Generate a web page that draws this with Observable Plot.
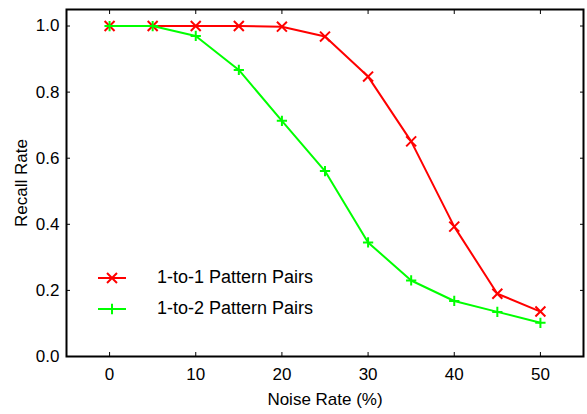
<!DOCTYPE html>
<html>
<head>
<meta charset="utf-8">
<script src="https://cdn.jsdelivr.net/npm/d3@7"></script>
<script src="https://cdn.jsdelivr.net/npm/@observablehq/plot@0.6"></script>
<style>
  body { margin: 0; background: #fff; }
  #chart { position: relative; width: 587px; height: 414px;
           font-family: "Liberation Sans", Arial, Helvetica, sans-serif; }
  #legend { position: absolute; left: 97px; top: 262px; font-size: 18px; color: #000; }
  #legend .row { display: flex; align-items: center; height: 31px; }
  #legend svg { margin-right: 30px; }
</style>
</head>
<body>
<div id="chart"></div>
<script>
// Recall rate versus noise rate for the two pattern-pair settings
const noiseRates = [0, 5, 10, 15, 20, 25, 30, 35, 40, 45, 50];
const recallOneToOne = [1.0, 1.0, 1.0, 1.0, 0.998, 0.968, 0.847, 0.651, 0.393, 0.19, 0.136];
const recallOneToTwo = [1.0, 1.0, 0.97, 0.867, 0.713, 0.561, 0.345, 0.23, 0.168, 0.135, 0.102];

const seriesNames = ["1-to-1 Pattern Pairs", "1-to-2 Pattern Pairs"];
const seriesColors = ["#ff0000", "#00ff00"];
const seriesSymbols = ["times", "plus"];
const seriesRadius = [4.6, 3.4];

const xTicks = [0, 10, 20, 30, 40, 50];
const yTicks = [0, 0.2, 0.4, 0.6, 0.8, 1.0];

const seriesValues = [recallOneToOne, recallOneToTwo];
const series = seriesNames.map((name, k) => ({
  name,
  color: seriesColors[k],
  symbol: seriesSymbols[k],
  r: seriesRadius[k],
  rows: noiseRates.map((x, i) => ({x, y: seriesValues[k][i]}))
}));

const fontFamily = '"Liberation Sans", Arial, Helvetica, sans-serif';

const chart = Plot.plot({
  width: 587,
  height: 414,
  marginLeft: 66,
  marginRight: 4,
  marginTop: 9,
  marginBottom: 58,
  style: {fontFamily, fontSize: "17px", color: "#000", background: "#fff", overflow: "visible"},
  x: {domain: [-5, 55]},
  y: {domain: [0, 1.05]},
  marks: [
    Plot.axisX(xTicks, {anchor: "bottom", tickSize: -4, tickPadding: 15, tickFormat: d => String(d),
      label: "Noise Rate (%)", labelAnchor: "center", labelOffset: 48, labelArrow: "none"}),
    Plot.axisX(xTicks, {anchor: "top", tickSize: -4, tickFormat: () => "", label: null}),
    Plot.axisY(yTicks, {anchor: "left", tickSize: -4, tickPadding: 11, tickFormat: d3.format(".1f"),
      label: "Recall Rate", labelAnchor: "center", labelOffset: 52, labelArrow: "none"}),
    Plot.axisY(yTicks, {anchor: "right", tickSize: -4, tickFormat: () => "", label: null}),
    ...series.flatMap(s => [
      Plot.line(s.rows, {x: "x", y: "y", stroke: s.color, strokeWidth: 2}),
      Plot.dot(s.rows, {x: "x", y: "y", symbol: s.symbol, r: s.r, stroke: s.color, strokeWidth: 2})
    ]),
    Plot.frame({stroke: "#000", strokeWidth: 2})
  ]
});

const container = document.getElementById("chart");
container.appendChild(chart);

// Legend placed inside the plot area, lower left
const legend = d3.select(container).append("div").attr("id", "legend");
series.forEach(s => {
  const row = legend.append("div").attr("class", "row");
  const sw = row.append("svg").attr("width", 30).attr("height", 16);
  sw.append("line").attr("x1", 1).attr("x2", 29).attr("y1", 8).attr("y2", 8)
    .attr("stroke", s.color).attr("stroke-width", 2);
  const shape = s.symbol === "times" ? d3.symbolTimes : d3.symbolPlus;
  sw.append("path").attr("transform", "translate(15,8)")
    .attr("d", d3.symbol(shape, Math.PI * s.r * s.r)())
    .attr("fill", "none").attr("stroke", s.color).attr("stroke-width", 2);
  row.append("span").text(s.name);
});
</script>
</body>
</html>
